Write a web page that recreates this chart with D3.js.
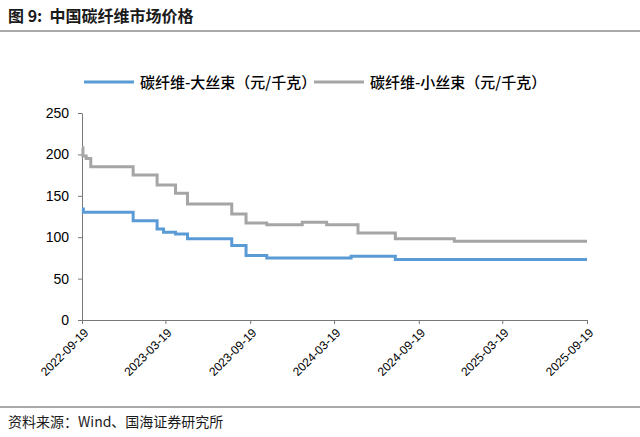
<!DOCTYPE html>
<html><head><meta charset="utf-8">
<script src="https://cdn.jsdelivr.net/npm/d3@7"></script>
<style>body{margin:0;background:#fff;font-family:"Noto Sans CJK SC",sans-serif;}</style>
</head><body><svg id="c" width="640" height="437"></svg>
<script>
// step points: date the price starts, price
var bigDates = ["2022-09-19","2022-09-22","2023-01-08","2023-03-01","2023-03-15","2023-04-10","2023-05-06","2023-08-10","2023-09-10","2023-10-25","2024-04-25","2024-07-30","2025-09-19"];
var bigVals = [134,130,120,110,106,104,98,90,78,75,77,73,73];
var smallDates = ["2022-09-19","2022-09-21","2022-09-28","2022-10-08","2023-01-08","2023-03-01","2023-04-10","2023-05-06","2023-08-10","2023-09-10","2023-10-25","2024-01-10","2024-03-03","2024-05-10","2024-07-30","2024-12-05","2025-09-19"];
var smallVals = [208,198,195,185,175,163,153,140,128,117,115,118,115,105,98,95,95];
var tickDates = ["2022-09-19","2023-03-19","2023-09-19","2024-03-19","2024-09-19","2025-03-19","2025-09-19"];
var yTicks = [0,50,100,150,200,250];
var seriesNames = ["碳纤维-大丝束（元/千克）","碳纤维-小丝束（元/千克）"];
var colors = ["#5b9bd5","#a5a5a5"];

var svg = d3.select("#c");
var parse = d3.timeParse("%Y-%m-%d");
var x = d3.scaleTime().domain([parse(tickDates[0]), parse(tickDates[6])]).range([82, 587]);
var y = d3.scaleLinear().domain([0, 250]).range([320, 113]);

// title
svg.append("text").attr("x", 8).attr("y", 22).attr("font-size", 16).attr("font-weight", "bold")
    .attr("fill", "#1a1a1a").attr("xml:space", "preserve").text("图 9:  中国碳纤维市场价格");
svg.append("line").attr("x1", 0).attr("x2", 640).attr("y1", 31).attr("y2", 31).attr("stroke", "#555").attr("stroke-width", 1);
svg.append("line").attr("x1", 0).attr("x2", 640).attr("y1", 407).attr("y2", 407).attr("stroke", "#555").attr("stroke-width", 1);
svg.append("text").attr("x", 8).attr("y", 427).attr("font-size", 14).attr("fill", "#1a1a1a").text("资料来源：Wind、国海证券研究所");

// axes
var yAxis = svg.append("g").attr("transform", "translate(82,0)")
    .call(d3.axisLeft(y).tickValues(yTicks).tickSize(4).tickSizeOuter(0));
yAxis.selectAll("text").attr("font-size", 14).attr("fill", "#000").attr("font-family", "Liberation Sans").attr("dx", -6);
var xAxis = svg.append("g").attr("transform", "translate(0,320)")
    .call(d3.axisBottom(x).tickValues(tickDates.map(parse)).tickFormat(d3.timeFormat("%Y-%m-%d")).tickSize(4).tickSizeOuter(0));
xAxis.selectAll("text").attr("font-size", 12).attr("fill", "#000").attr("font-family", "Liberation Sans")
    .attr("text-anchor", "end").attr("transform", "rotate(-45)").attr("dx", "-0.4em").attr("dy", "0.6em");
svg.selectAll(".domain, .tick line").attr("stroke", "#777");

// lines
var line = d3.line().x(function (d) { return x(d[0]); }).y(function (d) { return y(d[1]); }).curve(d3.curveStepAfter);
var series = [
    d3.zip(bigDates.map(parse), bigVals),
    d3.zip(smallDates.map(parse), smallVals)
];
series.forEach(function (s, i) {
    svg.append("path").datum(s).attr("d", line).attr("fill", "none")
        .attr("stroke", colors[i]).attr("stroke-width", 3);
});

// legend
var lx = [84, 314];
seriesNames.forEach(function (n, i) {
    svg.append("line").attr("x1", lx[i]).attr("x2", lx[i] + 50).attr("y1", 82).attr("y2", 82)
        .attr("stroke", colors[i]).attr("stroke-width", 3);
    svg.append("text").attr("x", lx[i] + 56).attr("y", 88).attr("font-size", 15).attr("font-weight", 500)
        .attr("fill", "#000").text(n);
});
</script></body></html>
